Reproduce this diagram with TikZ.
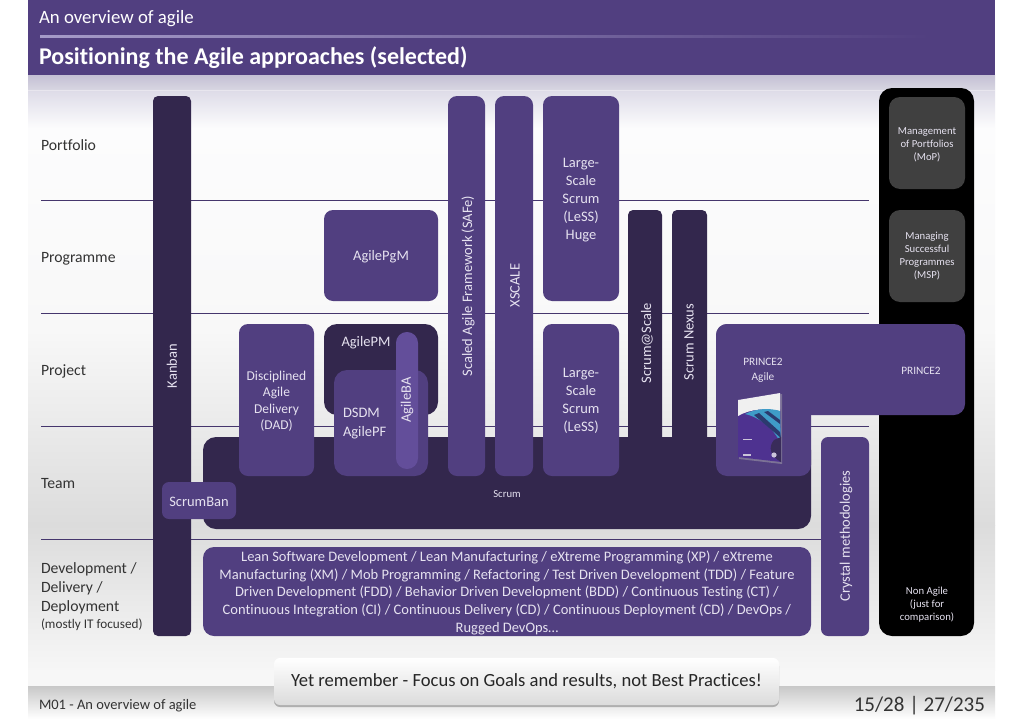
\documentclass[tikz,border=0pt]{standalone}
\usepackage{fontspec}
\setmainfont{Carlito}[Ligatures=NoCommon]
\usetikzlibrary{shadows}
\definecolor{purp}{HTML}{513F80}
\definecolor{dark}{HTML}{33274D}
\definecolor{light}{HTML}{634E9A}
\definecolor{greyb}{HTML}{404040}
\definecolor{txtw}{HTML}{E6E2F0}
\definecolor{ink}{HTML}{333333}
\definecolor{bookp}{HTML}{4E3290}
\definecolor{bookb}{HTML}{3F9CC8}
\definecolor{bookd}{HTML}{2B3A6E}
\definecolor{bga}{RGB}{196,192,212}
\definecolor{bgb}{RGB}{216,214,226}
\definecolor{bgc}{RGB}{232,230,238}
\definecolor{bgd}{RGB}{222,220,232}
\definecolor{bge}{RGB}{252,252,253}
\definecolor{bgf}{RGB}{248,248,248}
\definecolor{bgg}{RGB}{220,220,220}
\definecolor{bgh}{RGB}{246,246,246}
\definecolor{bgi}{RGB}{200,200,200}
\definecolor{hline}{RGB}{165,155,200}
\newcommand\bx[7]{\node[#6,minimum width={(#4-(#2))*1pt},minimum height={(#5-(#3))*1pt}] (#1) at ({(#2+#4)/2},{(#3+#5)/2}) {#7};}
\newcommand\lb[5][]{\node[lab,#1] (#2) at (#3,#4) {#5};}
\tikzset{
 x=1pt,y=-1pt,
 bb/.style={rectangle,draw=none,inner sep=0pt,outer sep=0pt,rounded corners=#1},
 bb/.default=9pt,
 pbox/.style={bb=9pt,fill=purp},
 dbox/.style={bb=9pt,fill=dark},
 kbox/.style={bb=5pt,fill=dark},
 sbox/.style={bb=7pt,fill=purp},
 blk/.style={bb=13pt,fill=black},
 gbox/.style={bb=11pt,fill=greyb},
 lab/.style={inner sep=0pt,outer sep=0pt,align=center,text=txtw,font=\fontsize{14.5}{18}\selectfont},
 sidel/.style={lab,text=ink,align=left,anchor=west,font=\fontsize{15.7}{19.2}\selectfont},
 tiny/.style={font=\fontsize{10.7}{13}\selectfont},
 rule/.style={draw=#1,line width=0.9pt},
 rule/.default={purp!85!black},
 vt/.style={rotate=90},
}
\begin{document}
\begin{tikzpicture}
\useasboundingbox (0,0) rectangle (1024,725);
\fill[white] (0,0) rectangle (1024,725);
% slide background
\shade[top color=bga,bottom color=bgb] (28,75) rectangle (995,90);
\fill[bgc] (28,90) rectangle (995,91);
\shade[top color=bgd,bottom color=bge] (28,91) rectangle (995,128);
\shade[top color=bge,bottom color=bgf] (28,128) rectangle (995,330);
\shade[top color=bgf,bottom color=bgg] (28,330) rectangle (995,525);
\shade[top color=bgg,bottom color=bgh] (28,525) rectangle (995,670);
\fill[black!3] (28,670) rectangle (995,686);
\shade[top color=bgi,bottom color=white] (28,686) rectangle (995,719);
% header
\fill[purp] (28,0) rectangle (995,75);
\shade[left color=hline,right color=purp] (40,36) rectangle (930,37.6);
\node[lab,anchor=west,text=white,font=\fontsize{18.8}{20}\selectfont] (section) at (39,19) {An overview of agile};
\node[lab,anchor=west,text=white,font=\fontsize{24}{26}\bfseries\selectfont] (title) at (39,57.8) {Positioning the Agile approaches (selected)};
% level rules
\coordinate (r1a) at (41,200); \coordinate (r1b) at (869,200);
\coordinate (r2a) at (41,313); \coordinate (r2b) at (869,313);
\coordinate (r3a) at (41,426); \coordinate (r3b) at (869,426);
\coordinate (r4a) at (41,539); \coordinate (r4b) at (821,539);
\draw[rule] (r1a) -- (r1b);
\draw[rule] (r2a) -- (r2b);
\draw[rule] (r3a) -- (r3b);
\draw[rule] (r4a) -- (r4b);
% level names
\node[sidel] (lportfolio) at (41,145.5) {Portfolio};
\node[sidel] (lprogramme) at (41,259) {Programme};
\node[sidel] (lproject) at (41,371) {Project};
\node[sidel] (lteam) at (41,484) {Team};
\node[sidel] (ldev) at (41,596.5) {Development /\\Delivery /\\Deployment\\[-2pt]{\fontsize{13.2}{15}\selectfont (mostly IT focused)}};
% non agile column
\bx{nonagile}{879}{88}{974}{636}{blk}{}
\bx{mop}{889}{97}{965}{189}{gbox}{}
\bx{msp}{889}{210}{965}{302}{gbox}{}
\lb[tiny]{tmop}{927}{144.5}{Management\\of Portfolios\\(MoP)}
\lb[tiny]{tmsp}{927}{256.5}{Managing\\Successful\\Programmes\\(MSP)}
\lb[tiny]{tnon}{927}{605}{Non Agile\\(just for\\comparison)}
% scrum
\bx{scrum}{203}{437}{811}{529}{bb=13pt,fill=dark}{}
\lb[tiny]{tscrum}{507}{494.5}{Scrum}
\bx{scrumscale}{628}{210}{662}{450}{kbox}{}
\bx{nexus}{672}{210}{707}{450}{kbox}{}
\lb[vt]{tscale}{647}{343}{Scrum@Scale}
\lb[vt]{tnexus}{689}{342}{Scrum Nexus}
% kanban
\bx{kanban}{153}{96}{191}{636}{kbox}{}
\lb[vt]{tkanban}{172}{366}{Kanban}
\bx{scrumban}{162}{482}{236}{519}{sbox}{}
\node[lab] (tscrumban) at (199,501.5) {ScrumBan};
% DAD
\bx{dad}{239}{324}{314}{476}{pbox}{}
\lb[font=\fontsize{13.5}{16.5}\selectfont]{tdad}{276.5}{401}{Disciplined\\Agile\\Delivery\\(DAD)}
% PgM, PM, DSDM, BA
\bx{pgm}{324}{210}{438}{301}{pbox}{}
\lb{tpgm}{381}{257}{AgilePgM}
\bx{pm}{324}{324}{438}{415}{bb=13pt,fill=dark}{}
\lb{tpm}{366}{343}{AgilePM}
\bx{dsdm}{334}{370}{428}{476}{bb=13pt,fill=purp}{}
\lb[align=left,anchor=west,font=\fontsize{14.5}{18.5}\selectfont]{tdsdm}{343}{423.5}{DSDM\\AgilePF}
\bx{ba}{396}{332}{418}{469}{bb=10.9pt,fill=light}{}
\lb[vt]{tba}{407}{400}{AgileBA}
% columns
\bx{safe}{448}{96}{485}{476}{pbox}{}
\lb[vt]{tsafe}{468}{286}{Scaled Agile Framework (SAFe)}
\bx{xscale}{495}{96}{533}{476}{pbox}{}
\lb[vt]{txscale}{515}{285.5}{XSCALE}
\bx{lessh}{543}{96}{619}{301}{pbox}{}
\lb[font=\fontsize{14.5}{17.8}\selectfont]{tlessh}{581}{200}{Large-\\Scale\\Scrum\\(LeSS)\\Huge}
\bx{less}{543}{324}{619}{476}{pbox}{}
\lb[font=\fontsize{14.5}{17.8}\selectfont]{tless}{581}{401}{Large-\\Scale\\Scrum\\(LeSS)}
% PRINCE2
\bx{princea}{716}{324}{811}{476}{bb=11pt,fill=purp}{}
\bx{princeb}{716}{324}{965}{415}{bb=11pt,fill=purp}{}
\lb[font=\fontsize{11.3}{15.5}\selectfont]{tpa}{763}{370.5}{PRINCE2\\Agile}
\lb[font=\fontsize{11.3}{13}\selectfont]{tp}{921}{370.5}{PRINCE2}
% book
\fill[black!30,opacity=.45] (739,401) -- (782,394) -- (782,464) -- (739,459) -- cycle;
\fill[bookp] (738,400) -- (780,393) -- (781,462) -- (738,457) -- cycle;
\fill[white!94!black] (738,400) -- (780,393) -- (780,411) .. controls (765,408) and (750,409) .. (738,416) -- cycle;
\fill[bookb] (745,414) .. controls (757,408) and (770,408) .. (780,411) -- (781,445) .. controls (776,431) and (762,418) .. (745,414) -- cycle;
\fill[bookd] (759,413) -- (780,432) -- (781,438) -- (754,415) -- cycle;
\fill[bookd] (768,411) -- (780,420) -- (780,424) -- (764,412) -- cycle;
\fill[purp!70!black] (774,440) .. controls (768,447) and (770,456) .. (781,462) -- (781,437) -- cycle;
\fill[white!70!purp] (774,455) circle (2.6);
\fill[white!70!purp] (743,439) rectangle (752,440);
\fill[white!70!purp] (743,454) rectangle (751,456);
% crystal
\bx{crystal}{821}{437}{869}{636}{sbox}{}
\lb[vt]{tcrystal}{846}{536}{Crystal methodologies}
% dev
\bx{dev}{203}{547}{811}{636}{bb=11pt,fill=purp}{}
\lb[font=\fontsize{14.5}{17.8}\selectfont]{tdev}{507}{592.8}{Lean Software Development / Lean Manufacturing / eXtreme Programming (XP) / eXtreme\\Manufacturing (XM) / Mob Programming / Refactoring / Test Driven Development (TDD) / Feature\\Driven Development (FDD) / Behavior Driven Development (BDD) / Continuous Testing (CT) /\\Continuous Integration (CI) / Continuous Delivery (CD) / Continuous Deployment (CD) / DevOps /\\Rugged DevOps\dots}
% footer
\node[sidel,font=\fontsize{14.5}{15}\selectfont] (foot) at (39,706) {M01 - An overview of agile};
\node[sidel,anchor=east,font=\fontsize{21}{22}\selectfont] (pages) at (985,705.5) {15/28 | 27/235};
\node[rectangle,rounded corners=6pt,minimum width=505pt,minimum height=47pt,inner sep=0pt,
 top color=white,bottom color=black!14,drop shadow={shadow xshift=0pt,shadow yshift=-2pt,opacity=.55},
 text=black!85,font=\fontsize{18.6}{20}\selectfont] (callout) at (526.5,681.5) {Yet remember - Focus on Goals and results, not Best Practices!};
\end{tikzpicture}
\end{document}
